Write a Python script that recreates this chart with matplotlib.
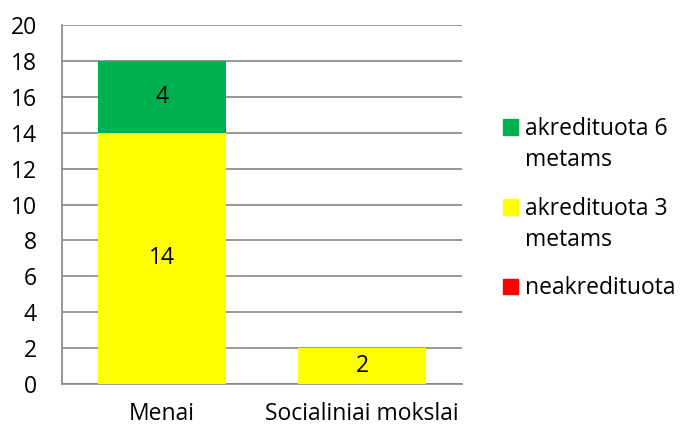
import matplotlib

matplotlib.use("Agg")
import matplotlib.pyplot as plt
from matplotlib.patches import Rectangle
import numpy as np

categories = ["Menai", "Socialiniai mokslai"]
neakredituota = [0, 0]
akred3 = [14, 2]
akred6 = [4, 0]

series_labels = ["neakredituota", "akredituota 3\nmetams", "akredituota 6\nmetams"]
COLORS = ["#ff0000", "#ffff00", "#00b050"]
GRIDC = "#868686"
FS = 16.5

plt.rcParams.update({
    "font.family": ["Open Sans", "DejaVu Sans"],
    "font.size": FS,
})

W, H = 680, 429
fig = plt.figure(figsize=(W / 100, H / 100), dpi=100)
ax = fig.add_axes([62 / W, 1 - 384 / H, 400 / W, 359 / H])

x = np.arange(len(categories))
w = 0.64
bottom = np.zeros(len(categories))
for vals, c in zip([neakredituota, akred3, akred6], COLORS):
    vals = np.asarray(vals, dtype=float)
    ax.bar(x, vals, w, bottom=bottom, color=c, zorder=3)
    for xi, b, v in zip(x, bottom, vals):
        if v > 0:
            ax.text(xi, b + v / 2, f"{int(v)}", ha="center", va="center",
                    fontsize=FS, zorder=4)
    bottom += vals

ax.set_xlim(-0.5, len(categories) - 0.5)
ax.set_ylim(0, 20)
ax.set_yticks(range(0, 21, 2))
ax.set_xticks(x, categories)
ax.yaxis.grid(True, color=GRIDC, lw=1.2, zorder=0)
ax.tick_params(axis="both", length=0, labelsize=FS)
ax.tick_params(axis="y", pad=18)
ax.tick_params(axis="x", pad=13)
for s in ("top", "right"):
    ax.spines[s].set_visible(False)
for s in ("left", "bottom"):
    ax.spines[s].set_color(GRIDC)
    ax.spines[s].set_linewidth(1.2)

# legend, drawn by hand so the swatch sits on the first line (Excel style)
first_baselines = [294, 215, 135]  # pixel rows, same order as series_labels
for c, lab, yb in zip(COLORS, series_labels, first_baselines):
    fig.patches.append(Rectangle((503 / W, 1 - (yb - 0.5) / H), 15 / W, 15 / H,
                                 transform=fig.transFigure, color=c))
    for k, line in enumerate(lab.split("\n")):
        fig.text(525 / W, 1 - (yb + 31 * k) / H, line, va="baseline",
                 ha="left", fontsize=FS)

fig.savefig("out.png", dpi=100)
